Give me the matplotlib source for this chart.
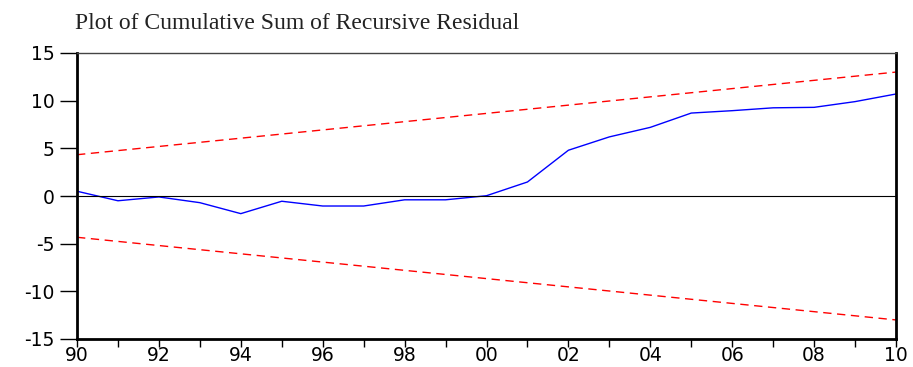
import matplotlib.pyplot as plt
import numpy as np

years = np.arange(1990, 2011)
cusum = [0.5, -0.5, -0.1, -0.7, -1.85, -0.55, -1.05, -1.05, -0.4, -0.4, 0.03,
         1.47, 4.8, 6.2, 7.2, 8.7, 8.95, 9.25, 9.3, 9.9, 10.7]
bound_years = [1990, 2010]
upper_bound = [4.33, 13.0]
lower_bound = [-4.33, -13.0]
tick_years = np.arange(1990, 2011, 2)
tick_labels = ["90", "92", "94", "96", "98", "00", "02", "04", "06", "08", "10"]

fig = plt.figure(figsize=(9.13, 3.67), dpi=100)
ax = fig.add_axes([77 / 913, 28 / 367, 819 / 913, 286 / 367])

ax.plot(years, cusum, color="blue", lw=1.0)
ax.plot(bound_years, upper_bound, color="red", lw=1.0, ls=(0, (6, 4)))
ax.plot(bound_years, lower_bound, color="red", lw=1.0, ls=(0, (6, 4)))
ax.axhline(0, color="black", lw=0.8)

ax.set_xlim(1990, 2010)
ax.set_ylim(-15, 15)
ax.set_yticks([-15, -10, -5, 0, 5, 10, 15])
ax.set_yticklabels(["-15", "-10", "-5", "0", "5", "10", "15"])
ax.set_xticks(tick_years)
ax.set_xticklabels(tick_labels)
ax.set_xticks(np.arange(1991, 2010, 2), minor=True)

for side in ["left", "bottom", "right"]:
    ax.spines[side].set_linewidth(2)
    ax.spines[side].set_color("black")
ax.spines["top"].set_linewidth(1)
ax.spines["top"].set_color("#444444")

ax.tick_params(axis="y", direction="out", length=12, width=1, pad=4,
               labelsize=13.5)
ax.tick_params(axis="x", which="both", direction="out", length=6, width=1,
               pad=-1, labelsize=13.5)
for lbl in ax.get_xticklabels() + ax.get_yticklabels():
    lbl.set_fontfamily("DejaVu Sans")

fig.text(75 / 913, 1 - 29 / 367, "Plot of Cumulative Sum of Recursive Residual",
         fontfamily="Liberation Serif", fontsize=17, color="#222222",
         va="baseline", ha="left")

fig.savefig("out.png", dpi=100)
